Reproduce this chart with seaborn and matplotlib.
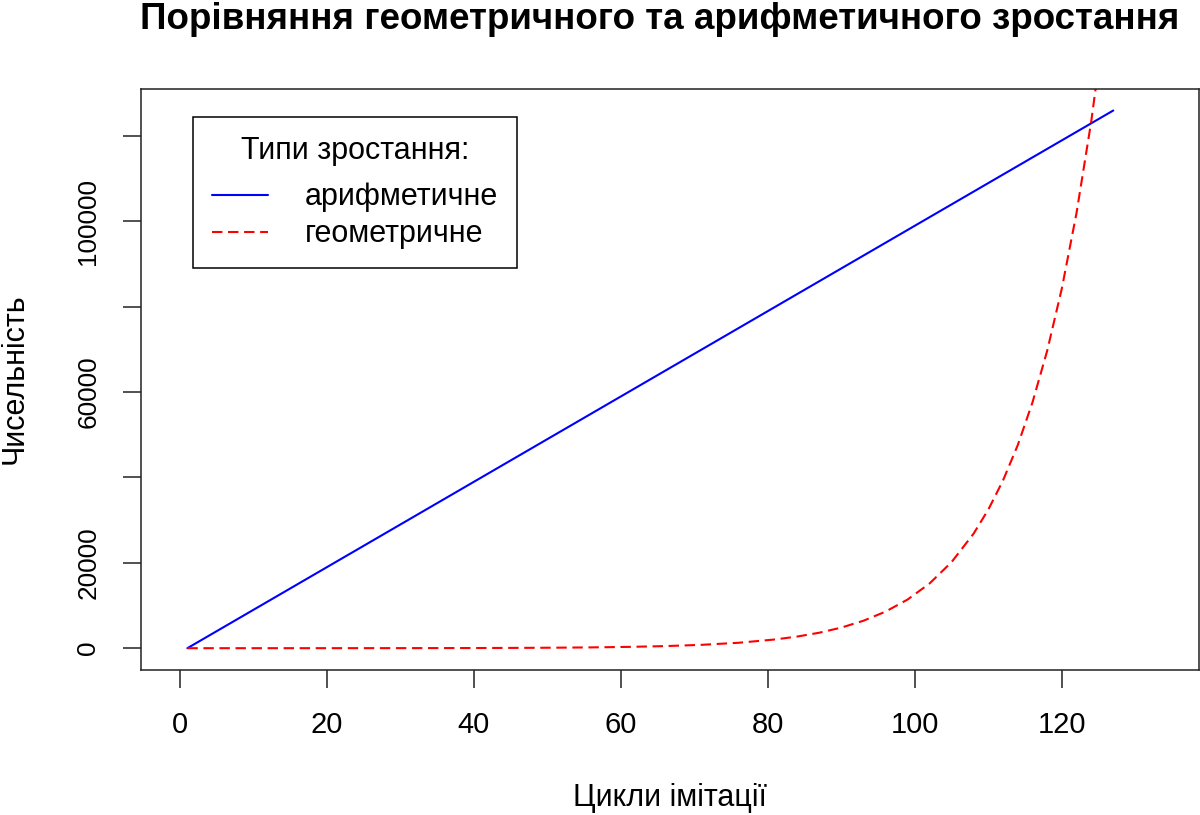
import pandas as pd
import matplotlib
matplotlib.use("Agg")
import matplotlib.pyplot as plt
import seaborn as sns

# Values
arith_x = [1, 127]
arith_y = [0, 126000]

geo_x = [1, 6, 11, 16, 21, 26, 31, 36, 41, 46, 51, 56, 61, 66, 71, 76, 81,
         84, 87, 90, 93, 96, 99, 102, 105, 108, 110, 112, 114, 116, 118, 120,
         122, 124, 126, 127]
geo_y = [1, 2, 3, 4, 7, 11, 17, 28, 45, 73, 117, 189, 305, 490, 790, 1270, 2050,
         2730, 3630, 4830, 6430, 8560, 11390, 15160, 20180, 26860, 32490, 39320,
         47570, 57560, 69650, 84280, 101980, 123390, 149310, 164240]

series_names = ['арифметичне', 'геометричне']
y_ticks = [0, 20000, 40000, 60000, 80000, 100000, 120000]
y_tick_labels = ['0', '20000', '', '60000', '', '100000', '']
x_ticks = [0, 20, 40, 60, 80, 100, 120]

title = 'Порівняння геометричного та арифметичного зростання'
x_label = 'Цикли імітації'
y_label = 'Чисельність'
legend_title = 'Типи зростання:'

sns.set_style('ticks')
plt.rcParams['font.family'] = ['Liberation Sans', 'DejaVu Sans']
plt.rcParams['text.color'] = 'black'
plt.rcParams['axes.labelcolor'] = 'black'
plt.rcParams['xtick.color'] = 'black'
plt.rcParams['ytick.color'] = 'black'

df = pd.concat([
    pd.DataFrame({'cycle': arith_x, 'count': arith_y, 'type': series_names[0]}),
    pd.DataFrame({'cycle': geo_x, 'count': geo_y, 'type': series_names[1]}),
], ignore_index=True)

W, H = 1200, 815
fig = plt.figure(figsize=(W / 100, H / 100), dpi=100)
left, right, top, bottom = 140.7, 1198.5, 89, 669.7
ax = fig.add_axes([left / W, 1 - bottom / H, (right - left) / W, (bottom - top) / H])

sns.lineplot(data=df, x='cycle', y='count', hue='type', style='type',
             palette={series_names[0]: '#0000FF', series_names[1]: '#FF0000'},
             dashes={series_names[0]: '', series_names[1]: (5, 2.7)},
             estimator=None, sort=False, linewidth=1.5, legend=False, ax=ax)

# R-style 4% padding
ax.set_xlim(-5.35, 138.6)
ypad = 0.04 * (max(arith_y) - min(arith_y))
ax.set_ylim(min(arith_y) - ypad, max(arith_y) + ypad)

ax.set_xticks(x_ticks)
ax.set_yticks(y_ticks)
ax.set_yticklabels(y_tick_labels)
ax.set_xlabel('')
ax.set_ylabel('')

for s in ax.spines.values():
    s.set_visible(True)
    s.set_linewidth(1.1)
    s.set_color('#222222')

ax.tick_params(axis='both', direction='out', length=13, width=1.1,
               color='#222222', labelcolor='black')
ax.tick_params(axis='x', pad=17, labelsize=21)
ax.tick_params(axis='y', pad=16, labelsize=18.8)
for lab in ax.get_yticklabels():
    lab.set_rotation(90)
    lab.set_va('center')

fig.text(660 / W, 1 - 29 / H, title, ha='center', va='baseline',
         fontsize=26.5, fontweight='bold')
fig.text(670 / W, 1 - 806 / H, x_label, ha='center', va='baseline', fontsize=22)
fig.text(23 / W, 1 - 379 / H, y_label, ha='center', va='baseline', rotation=90,
         rotation_mode='anchor', fontsize=22)

handles = ax.get_lines()[:2]
leg = ax.legend(handles, series_names, title=legend_title, loc='upper left',
                bbox_to_anchor=(193.3 / W, 1 - 117.3 / H), bbox_transform=fig.transFigure,
                borderaxespad=0, frameon=True, fancybox=False, edgecolor='black',
                framealpha=1, fontsize=22, title_fontsize=22, handlelength=1.86,
                handletextpad=1.2, borderpad=0.6, labelspacing=0.23)
leg.get_frame().set_linewidth(1.1)
# a bit more room between legend title and entries
leg._legend_box.sep = 12

fig.savefig('out.png', dpi=100)
